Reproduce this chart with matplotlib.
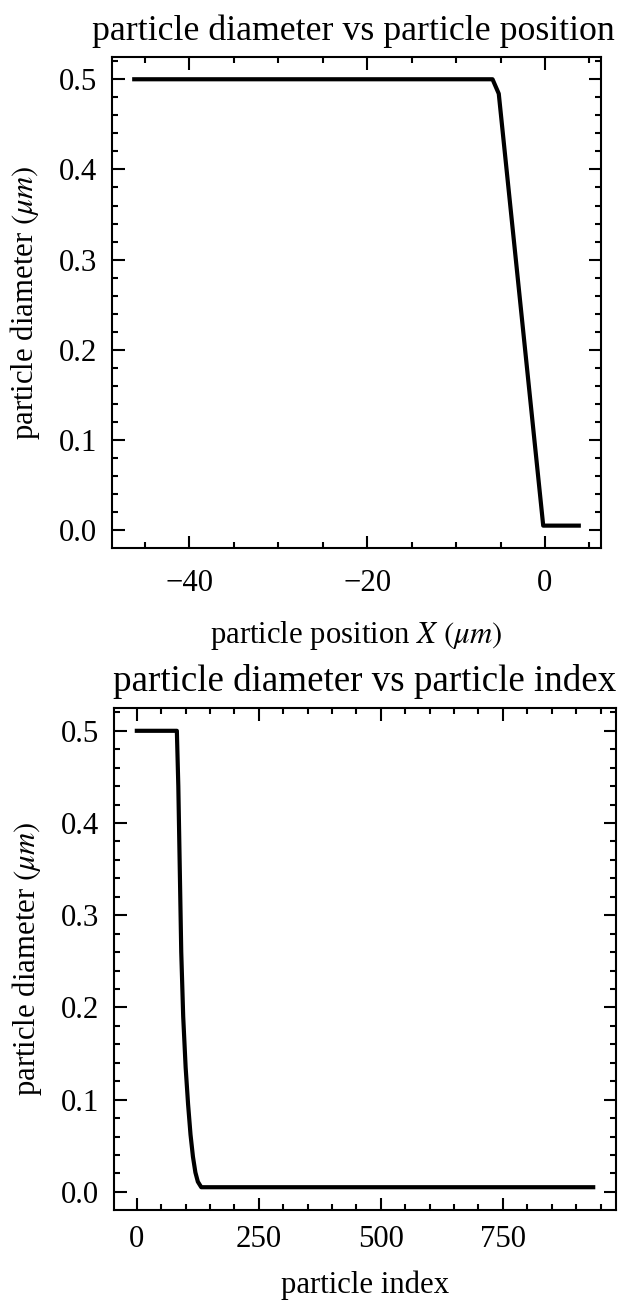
import numpy as np
import matplotlib
matplotlib.use("Agg")
import matplotlib.pyplot as plt

# diameter against position along x (um)
pos_x = [-46.2, -5.9, -5.2, -0.2, 3.8]
pos_d = [0.5, 0.5, 0.484, 0.005, 0.005]

# diameter against particle index
idx = [0, 82, 85, 88, 91, 95, 100, 105, 110, 115, 120, 125, 132, 935]
idx_d = [0.5, 0.5, 0.44, 0.35, 0.26, 0.19, 0.135, 0.095, 0.062, 0.038, 0.021, 0.011, 0.005, 0.005]

plt.rcParams.update({
    'font.family': 'serif',
    'font.serif': ['Liberation Serif', 'DejaVu Serif'],
    'mathtext.fontset': 'stix',
    'font.size': 7.4,
    'axes.titlepad': 4.1,
    'axes.linewidth': 0.5,
    'lines.linewidth': 1.0,
    'xtick.direction': 'in',
    'ytick.direction': 'in',
    'xtick.top': True,
    'ytick.right': True,
    'xtick.minor.visible': True,
    'ytick.minor.visible': True,
    'xtick.major.size': 3,
    'xtick.major.width': 0.5,
    'xtick.minor.size': 1.5,
    'xtick.minor.width': 0.5,
    'ytick.major.size': 3,
    'ytick.major.width': 0.5,
    'ytick.minor.size': 1.5,
    'ytick.minor.width': 0.5,
})

dpi = 300
fig = plt.figure(figsize=(623 / dpi, 1300 / dpi), dpi=dpi)

ax1 = fig.add_axes([0.1798, 0.5785, 0.7849, 0.3777])
ax1.plot(pos_x, pos_d, color='black')
ax1.set_title('particle diameter vs particle position', fontsize=8.6, x=0.493)
ax1.set_xlabel(r'particle position $X$ $(\mu m)$', labelpad=5)
ax1.set_ylabel(r'particle diameter $(\mu m)$')
ax1.tick_params(axis='x', which='major', pad=5)

ax2 = fig.add_axes([0.183, 0.0692, 0.8058, 0.3862])
ax2.plot(idx, idx_d, color='black')
ax2.set_title('particle diameter vs particle index')
ax2.set_xlabel('particle index')
ax2.set_ylabel(r'particle diameter $(\mu m)$')
ax2.set_xticks([0, 250, 500, 750])

fig.savefig('out.png', dpi=dpi)
